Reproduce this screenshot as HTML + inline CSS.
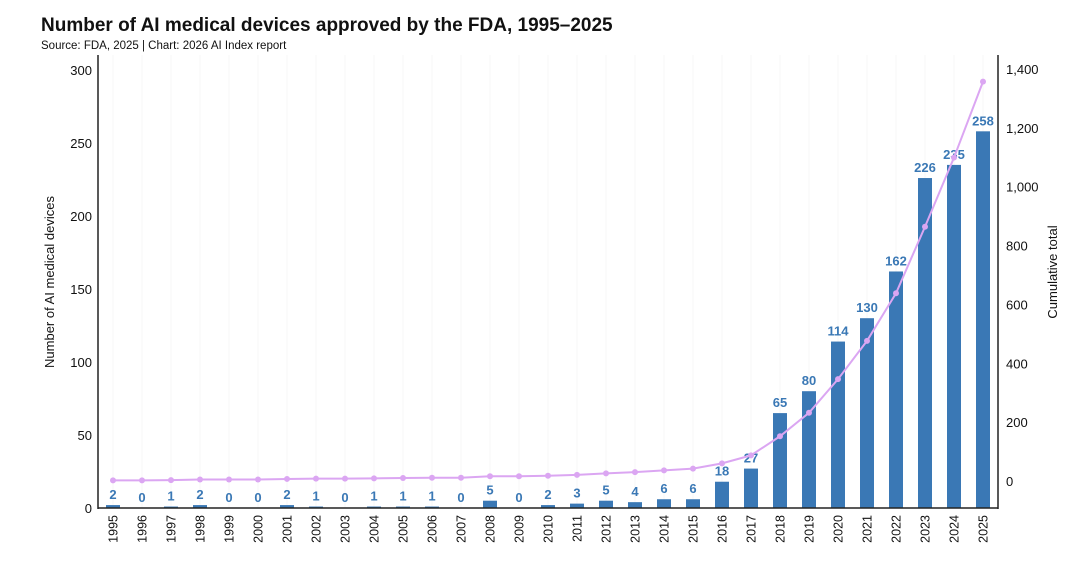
<!DOCTYPE html>
<html><head><meta charset="utf-8"><style>
body{margin:0;background:#fff;font-family:"Liberation Sans",sans-serif}
</style></head><body>
<svg id="c" width="1080" height="559" xmlns="http://www.w3.org/2000/svg">
<text x="41" y="31" font-size="19" font-weight="bold" fill="#111">Number of AI medical devices approved by the FDA, 1995–2025</text>
<text x="41" y="49" font-size="11.5" fill="#111">Source: FDA, 2025 | Chart: 2026 AI Index report</text>
<text transform="translate(54,282) rotate(-90)" text-anchor="middle" font-size="13" fill="#111">Number of AI medical devices</text>
<text transform="translate(1057,272) rotate(-90)" text-anchor="middle" font-size="13" fill="#111">Cumulative total</text>
<g id="g"></g>
</svg>
<script>
const years=[1995,1996,1997,1998,1999,2000,2001,2002,2003,2004,2005,2006,2007,2008,2009,2010,2011,2012,2013,2014,2015,2016,2017,2018,2019,2020,2021,2022,2023,2024,2025];
const counts=[2,0,1,2,0,0,2,1,0,1,1,1,0,5,0,2,3,5,4,6,6,18,27,65,80,114,130,162,226,235,258];
const leftTicks=[0,50,100,150,200,250,300];
const rightTicks=[0,200,400,600,800,1000,1200,1400];
const cumulative=[];let s=0;for(const v of counts){s+=v;cumulative.push(s);}
const ns="http://www.w3.org/2000/svg",g=document.getElementById('g');
const X=i=>113+i*29, Y=v=>508-v*1.46, Y2=v=>481-v*0.2943;
function el(t,a,txt){const e=document.createElementNS(ns,t);for(const k in a)e.setAttribute(k,a[k]);if(txt!==undefined)e.textContent=txt;g.appendChild(e);return e;}
years.forEach((y,i)=>{let e=el('line',{x1:X(i),x2:X(i),y1:55,y2:508,stroke:'#f7f7f7'});

});
leftTicks.forEach(t=>{let e=el('text',{x:92,y:Y(t)+5,'text-anchor':'end','font-size':13,fill:'#111'},t);

});
rightTicks.forEach(t=>{let e=el('text',{x:1006,y:Y2(t)+5,'font-size':13,fill:'#111'},t.toLocaleString('en-US'));

});
years.forEach((y,i)=>{
let b=el('rect',{x:X(i)-7,y:Y(counts[i]),width:14,height:counts[i]*1.46,fill:'#3a78b5'});


let l=el('text',{x:X(i),y:Y(counts[i])-6,'text-anchor':'middle','font-size':13,'font-weight':'bold',fill:'#3a78b5'},counts[i]);


let xl=el('text',{transform:`translate(${X(i)+4.5},515) rotate(-90)`,'text-anchor':'end','font-size':12.5,fill:'#111'},y);


});
let p=el('polyline',{points:cumulative.map((v,i)=>X(i)+','+Y2(v)).join(' '),fill:'none',stroke:'#dba6f2','stroke-width':2});


cumulative.forEach((v,i)=>{let c=el('circle',{cx:X(i),cy:Y2(v),r:3,fill:'#dba6f2'});

});
let a1=el('line',{x1:98,x2:98,y1:55,y2:509,stroke:'#222','stroke-width':1.5});


let a2=el('line',{x1:998,x2:998,y1:55,y2:509,stroke:'#222','stroke-width':1.5});


let a3=el('line',{x1:98,x2:998,y1:508,y2:508,stroke:'#222','stroke-width':1.5});


</script>
</body></html>
